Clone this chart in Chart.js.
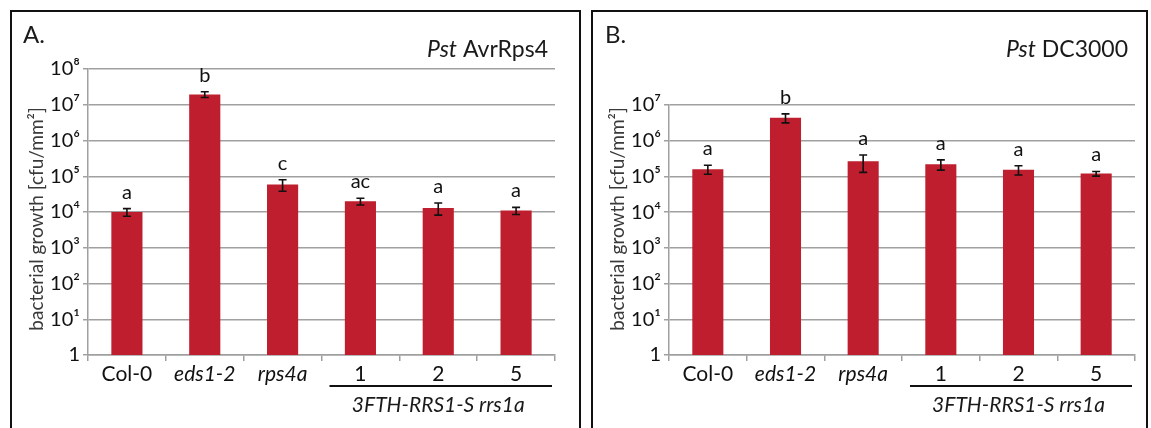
<!DOCTYPE html>
<html><head><meta charset="utf-8">
<script src="https://cdn.jsdelivr.net/npm/chart.js@4/dist/chart.umd.min.js"></script>
<style>
html,body{margin:0;padding:0;background:#fff}
body{width:1151px;height:428px;overflow:hidden;position:relative;font-family:Lato,"DejaVu Sans",sans-serif}
.panel{position:absolute;top:10px;height:440px;border:2px solid #111;border-bottom:none;box-sizing:border-box}
#pa{left:10px;width:571px}
#pb{left:591px;width:557px}
canvas{position:absolute;left:0;top:0}
</style></head>
<body>
<div class="panel" id="pa"><canvas id="ca" width="567" height="416"></canvas></div>
<div class="panel" id="pb"><canvas id="cb" width="553" height="416"></canvas></div>
<script>
// ---- data ----
const categories = ['Col-0', 'eds1-2', 'rps4a', '1', '2', '5'];
const groupLabel = '3FTH-RRS1-S rrs1a';
const yTitle = 'bacterial growth [cfu/mm\u00B2]';

const panelA = 'A.';
const strainA = 'AvrRps4';
const valuesA = [1.0e4, 1.95e7, 5.9e4, 2.0e4, 1.3e4, 1.1e4];
const errorsA = [2.4e3, 3.5e6, 2.1e4, 4.3e3, 4.8e3, 2.5e3];
const lettersA = ['a', 'b', 'c', 'ac', 'a', 'a'];
const tickValuesA = [1, 10, 100, 1e3, 1e4, 1e5, 1e6, 1e7, 1e8];
const tickLabelsA = ['1', '10\u00B9', '10\u00B2', '10\u00B3', '10\u2074', '10\u2075', '10\u2076', '10\u2077', '10\u2078'];

const panelB = 'B.';
const strainB = 'DC3000';
const valuesB = [1.6e5, 4.4e6, 2.65e5, 2.2e5, 1.55e5, 1.2e5];
const errorsB = [4.5e4, 1.25e6, 1.35e5, 7.0e4, 4.5e4, 1.8e4];
const lettersB = ['a', 'b', 'a', 'a', 'a', 'a'];
const tickValuesB = [1, 10, 100, 1e3, 1e4, 1e5, 1e6, 1e7];
const tickLabelsB = ['1', '10\u00B9', '10\u00B2', '10\u00B3', '10\u2074', '10\u2075', '10\u2076', '10\u2077'];

// ---- style ----
const FONT = 'Lato, "DejaVu Sans", sans-serif';
const italicCats = [false, true, true, false, false, false];
const GRID = '#a0a0a0';
const BAR = '#BE1E2D';

function makeChart(id, o) {
  const annot = {
    id: 'annot',
    afterDatasetsDraw(chart) {
      const ctx = chart.ctx;
      const meta = chart.getDatasetMeta(0);
      const ys = chart.scales.y;
      ctx.save();
      ctx.strokeStyle = '#111';
      ctx.lineWidth = 1.6;
      meta.data.forEach((bar, i) => {
        const v = o.values[i], e = o.errors[i];
        const yT = ys.getPixelForValue(v + e);
        const yB = ys.getPixelForValue(v - e);
        const x = bar.x;
        ctx.beginPath();
        ctx.moveTo(x, yT); ctx.lineTo(x, yB);
        ctx.moveTo(x - 4, yT); ctx.lineTo(x + 4, yT);
        ctx.moveTo(x - 4, yB); ctx.lineTo(x + 4, yB);
        ctx.stroke();
        ctx.fillStyle = '#111';
        ctx.font = '20px ' + FONT;
        ctx.textAlign = 'center';
        ctx.textBaseline = 'alphabetic';
        ctx.fillText(o.letters[i], x, yT - 10);
      });
      ctx.restore();
    },
    afterDraw(chart) {
      const ctx = chart.ctx;
      const area = chart.chartArea;
      const xs = chart.scales.x;
      ctx.save();
      ctx.fillStyle = '#1a1a1a';
      // panel letter
      ctx.font = '24px ' + FONT;
      ctx.textAlign = 'left';
      ctx.textBaseline = 'alphabetic';
      ctx.fillText(o.panel, o.letterX, 31);
      // title: Pst + strain, right aligned
      ctx.font = '23px ' + FONT;
      const wStrain = ctx.measureText(' ' + o.strain).width;
      const right = area.right - 7;
      ctx.textAlign = 'right';
      ctx.fillText(' ' + o.strain, right, 45);
      ctx.font = 'italic 23px ' + FONT;
      ctx.fillText('Pst', right - wStrain, 45);
      // y title
      ctx.save();
      ctx.fillStyle = '#3a3a3a';
      ctx.font = '19px ' + FONT;
      ctx.translate(25, 207);
      ctx.rotate(-Math.PI / 2);
      ctx.textAlign = 'center';
      ctx.textBaseline = 'middle';
      ctx.fillText(yTitle, 0, 0);
      ctx.restore();
      // group underline + label
      const w = xs.getPixelForValue(1) - xs.getPixelForValue(0);
      const x1 = xs.getPixelForValue(3) - w / 2 + 8;
      const x2 = area.right - 3;
      ctx.strokeStyle = '#111';
      ctx.lineWidth = 2;
      ctx.beginPath();
      ctx.moveTo(x1, 374); ctx.lineTo(x2, 374);
      ctx.stroke();
      ctx.font = 'italic 21px ' + FONT;
      ctx.textAlign = 'center';
      ctx.fillText(groupLabel, xs.getPixelForValue(4), 400);
      ctx.restore();
    }
  };
  return new Chart(document.getElementById(id), {
    type: 'bar',
    data: {
      labels: categories,
      datasets: [{
        data: o.values,
        backgroundColor: BAR,
        borderWidth: 0,
        barPercentage: 0.4,
        categoryPercentage: 1
      }]
    },
    options: {
      responsive: false,
      animation: false,
      events: [],
      layout: { padding: { left: 0, right: o.padRight, top: o.padTop, bottom: 0 } },
      plugins: { legend: { display: false }, tooltip: { enabled: false } },
      scales: {
        x: {
          afterFit(s) { s.height = 73; },
          border: { display: true, color: GRID, width: 1.5 },
          grid: { display: true, drawOnChartArea: false, drawTicks: true, tickLength: 6, color: GRID, lineWidth: 1.5, offset: true },
          ticks: {
            color: '#111',
            padding: 1,
            maxRotation: 0,
            font: (c) => ({ family: FONT, size: 21, style: italicCats[c.index] ? 'italic' : 'normal' })
          }
        },
        y: {
          type: 'logarithmic',
          min: o.tickValues[0],
          max: o.tickValues[o.tickValues.length - 1],
          afterFit(s) { s.width = 76; },
          afterBuildTicks(s) { s.ticks = o.tickValues.map(v => ({ value: v })); },
          border: { display: true, color: GRID, width: 1.5 },
          grid: { color: GRID, lineWidth: 1.5, drawTicks: true, tickLength: 5 },
          ticks: {
            color: '#111',
            padding: 3,
            font: { family: FONT, size: 20 },
            callback: (v) => { const k = o.tickValues.indexOf(v); return k >= 0 ? o.tickLabels[k] : ''; }
          }
        }
      }
    },
    plugins: [annot]
  });
}

makeChart('ca', { values: valuesA, errors: errorsA, letters: lettersA, tickValues: tickValuesA, tickLabels: tickLabelsA,
  panel: panelA, strain: strainA, letterX: 11, padRight: 24, padTop: 57 });
makeChart('cb', { values: valuesB, errors: errorsB, letters: lettersB, tickValues: tickValuesB, tickLabels: tickLabelsB,
  panel: panelB, strain: strainB, letterX: 12, padRight: 11, padTop: 93 });
</script>
</body></html>
